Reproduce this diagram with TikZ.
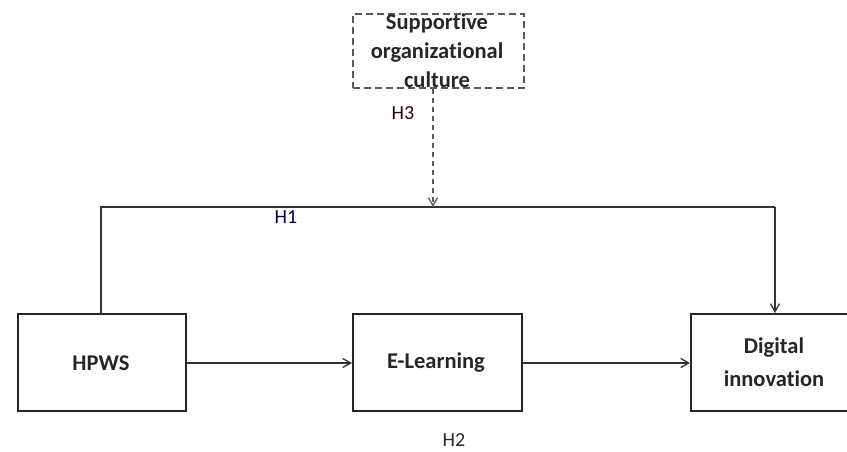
\documentclass[tikz,border=0pt]{standalone}
\usepackage{fontspec}
\setmainfont{Carlito}[Ligatures=NoCommon]
\usetikzlibrary{arrows.meta}
\begin{document}
\begin{tikzpicture}[x=1pt,y=-1pt,
  varbox/.style={draw=black!85,line width=1.8pt,minimum width=168pt,minimum height=97pt,inner sep=0pt,anchor=north west},
  boxtext/.style={font=\fontsize{22.5}{33}\selectfont\bfseries,align=center,text=black!85,inner sep=0pt},
  modbox/.style={draw=black!65,line width=1.8pt,dash pattern=on 7pt off 4pt,minimum width=171pt,minimum height=74pt,inner sep=0pt,anchor=north west},
  link/.style={draw=black!80,line width=1.4pt},
  tip/.style={-{Straight Barb[length=8pt,width=9pt,line width=1.3pt]}},
  hlab/.style={font=\fontsize{20}{22}\selectfont,inner sep=0pt}
]
\useasboundingbox (0,0) rectangle (847,452);
\clip (0,0) rectangle (847,452);
\node[varbox] (hpws) at (17,313) {};
\node[boxtext] (hpwstext) at (101,363) {HPWS};
\node[varbox,minimum width=169pt] (el) at (352,313) {};
\node[boxtext] (eltext) at (436,363) {E-Learning};
\node[varbox] (di) at (690,313) {};
\node[boxtext] (ditext) at (774,362) {Digital\\innovation};
\node[modbox] (soc) at (352,13) {};
\node[boxtext,font=\fontsize{22.5}{29}\selectfont\bfseries] (soctext) at (437,51) {Supportive\\organizational\\culture};
\coordinate (tl) at (101,207);
\coordinate (tr) at (775,207);
\coordinate (mid) at (433,207);
\draw[link] (hpws.north -| tl) -- (tl) -- (tr);
\draw[link,tip] (tr) -- (tr |- di.north);
\draw[link,tip] (hpws.east |- 0,363) -- (el.west |- 0,363);
\draw[link,tip] (el.east |- 0,363) -- (di.west |- 0,363);
\draw[link,draw=black!65,dash pattern=on 5pt off 4pt,tip] (soc.south -| mid) -- (mid);
\node[hlab,text=black!70!red!60!black] (h3) at (403,113) {H3};
\node[hlab,text=black!75!blue] (h1) at (286,217) {H1};
\node[hlab,text=black!85] (h2) at (454,440) {H2};
\end{tikzpicture}
\end{document}
